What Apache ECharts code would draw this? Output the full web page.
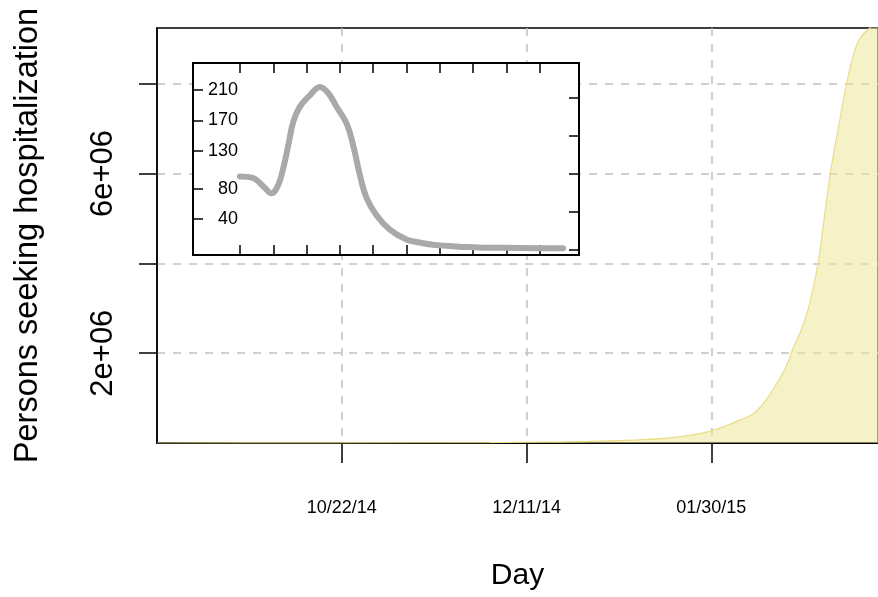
<!DOCTYPE html>
<html>
<head>
<meta charset="utf-8">
<script src="https://cdn.jsdelivr.net/npm/echarts@6/dist/echarts.min.js"></script>
<style>
  html, body { margin: 0; padding: 0; background: #fff; }
  #main { width: 878px; height: 597px; }
</style>
</head>
<body>
<div id="main"></div>
<script>
// main series: days counted from 10/22/14, persons seeking hospitalization
const dayOffsets = [-50, 0, 40, 60, 70, 80, 88, 95, 100, 104, 108, 111, 113, 115, 117, 119, 121, 122, 124, 126, 127, 128, 129, 130, 131, 132, 133, 134, 135, 136, 137, 138, 139, 140, 141, 142, 143, 144, 146];
const persons = [0, 2000, 10000, 25000, 40000, 70000, 110000, 180000, 270000, 380000, 520000, 630000, 780000, 980000, 1230000, 1500000, 1850000, 2080000, 2450000, 2920000, 3250000, 3620000, 4050000, 4650000, 5300000, 5900000, 6400000, 6850000, 7300000, 7750000, 8150000, 8500000, 8780000, 8980000, 9100000, 9180000, 9250000, 9320000, 9400000];
const dateTicks = [0, 50, 100];
const personTicks = [2000000, 4000000, 6000000, 8000000];
const personLabels = [2000000, 6000000];

// inset series
const insetT = [0, 4, 7, 9.5, 11.5, 13, 14.5, 16, 18, 21, 24, 26.5, 29, 32, 34, 36, 38, 41, 45, 50, 54, 58, 63, 68, 73, 80, 90, 97];
const insetV = [96, 94, 83, 74, 85, 107, 137, 168, 188, 203, 214, 206, 188, 166, 137, 98, 68, 45, 26, 13, 9, 6, 4.5, 3, 2.3, 2, 1.6, 1.5];
const insetXTicks = [0, 10, 20, 30, 40, 50, 60, 70, 80, 90];
const insetLeftTicks = [40, 80, 130, 170, 210];
const insetRightTicks = [0, 50, 100, 150, 200];

const startDate = Date.UTC(2014, 9, 22);
function fmtDay(v) {
  const d = new Date(startDate + v * 86400000);
  const p = n => (n < 10 ? "0" : "") + n;
  return p(d.getUTCMonth() + 1) + "/" + p(d.getUTCDate()) + "/" + p(d.getUTCFullYear() % 100);
}

const font = "Liberation Sans";
const dash = { color: "#c0c0c0", width: 1.5, type: [8, 8] };
const black = (w) => ({ onZero: false, lineStyle: { color: "#000", width: w } });
const insetTick = (vals) => ({ show: true, customValues: vals, inside: true, length: 10, lineStyle: { color: "#000", width: 1.5 } });

const chart = echarts.init(document.getElementById("main"));
chart.setOption({
  animation: false,
  textStyle: { fontFamily: font },
  grid: [
    { left: 157, top: 28, right: -2, bottom: 154, show: true, borderColor: "#000", borderWidth: 1.5 },
    { left: 193, top: 63, right: 299, bottom: 342, show: true, backgroundColor: "#fff", borderWidth: 0, z: 5 }
  ],
  xAxis: [
    {
      gridIndex: 0, type: "value", min: -50, max: 145.1,
      name: "Day", nameLocation: "middle", nameGap: 118,
      nameTextStyle: { fontSize: 30, color: "#000", fontFamily: font },
      axisLine: black(2),
      axisTick: { customValues: dateTicks, length: 20, lineStyle: { color: "#000", width: 1.5 } },
      axisLabel: { customValues: dateTicks, formatter: fmtDay, margin: 56, fontSize: 18, color: "#000" },
      splitLine: { show: true, lineStyle: dash }
    },
    {
      gridIndex: 1, type: "value", min: -14.1, max: 101.8, position: "bottom", z: 6,
      axisLine: black(2), axisTick: insetTick(insetXTicks),
      axisLabel: { show: false }, splitLine: { show: false }
    },
    {
      gridIndex: 1, type: "value", min: -14.1, max: 101.8, position: "top", z: 6,
      axisLine: black(2), axisTick: insetTick(insetXTicks),
      axisLabel: { show: false }, splitLine: { show: false }
    }
  ],
  yAxis: [
    {
      gridIndex: 0, type: "value", min: 0, max: 9240000,
      name: "Persons seeking hospitalization", nameLocation: "middle", nameGap: 112, nameRotate: 90,
      nameTextStyle: { fontSize: 32.5, color: "#000", fontFamily: font },
      axisLine: Object.assign({ show: true }, black(1.5)),
      axisTick: { show: true, customValues: personTicks, length: 18, lineStyle: { color: "#000", width: 1.5 } },
      axisLabel: {
        customValues: personLabels, rotate: 90, margin: 38, fontSize: 31, color: "#000",
        formatter: v => (v / 1000000) + "e+06"
      },
      splitLine: { show: true, lineStyle: dash }
    },
    {
      gridIndex: 1, type: "value", min: -7.4, max: 245.6, position: "left", z: 6,
      axisLine: Object.assign({ show: true }, black(2)), axisTick: insetTick(insetLeftTicks),
      axisLabel: { customValues: insetLeftTicks, inside: true, align: "right", margin: 45, fontSize: 18, color: "#000" },
      splitLine: { show: false }
    },
    {
      gridIndex: 1, type: "value", min: -7.4, max: 245.6, position: "right", z: 6,
      axisLine: Object.assign({ show: true }, black(2)), axisTick: insetTick(insetRightTicks),
      axisLabel: { show: false }, splitLine: { show: false }
    }
  ],
  series: [
    {
      type: "line", xAxisIndex: 0, yAxisIndex: 0, showSymbol: false,
      data: dayOffsets.map((d, i) => [d, persons[i]]),
      smooth: 0.15,
      lineStyle: { color: "#ebdd86", width: 1.2 },
      areaStyle: { color: "rgba(238,231,157,0.8)" }
    },
    {
      type: "line", xAxisIndex: 1, yAxisIndex: 1, showSymbol: false, z: 10,
      data: insetT.map((t, i) => [t, insetV[i]]),
      smooth: 0.4,
      lineStyle: { color: "#a9a9a9", width: 6, cap: "round", join: "round" }
    }
  ]
});
</script>
</body>
</html>
